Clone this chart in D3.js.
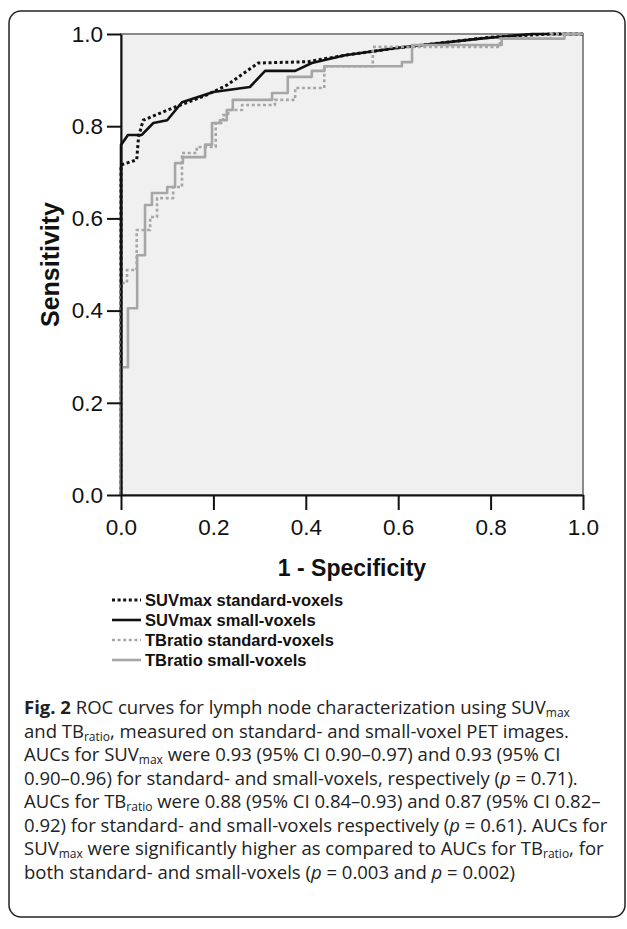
<!DOCTYPE html>
<html>
<head>
  <meta charset="utf-8">
  <script src="https://d3js.org/d3.v7.min.js"></script>
  <style>
    body { margin: 0; background: white; }
    svg text { font-family: "Liberation Sans", Arial, sans-serif; }
    .caption text { font-family: "Open Sans", "Noto Sans", sans-serif; }
  </style>
</head>
<body>
<div id="my_dataviz"></div>
<script>
// ROC points (1 - specificity, sensitivity)
const suvStdFpr = [0, 0, 0.034, 0.038, 0.048, 0.113, 0.186, 0.229, 0.297, 0.405, 0.485, 0.6, 0.8, 0.93, 1];
const suvStdTpr = [0, 0.716, 0.727, 0.777, 0.813, 0.84, 0.868, 0.889, 0.937, 0.94, 0.954, 0.97, 0.993, 1, 1];

const suvSmallFpr = [0, 0, 0.015, 0.045, 0.07, 0.1, 0.132, 0.2, 0.279, 0.312, 0.377, 0.413, 0.485, 0.6, 0.777, 0.89, 1];
const suvSmallTpr = [0, 0.759, 0.781, 0.781, 0.807, 0.813, 0.852, 0.874, 0.885, 0.92, 0.92, 0.937, 0.954, 0.97, 0.99, 1, 1];

// step curves: each point = end of a horizontal run at that sensitivity
const tbStdFpr = [0, 0.013, 0.034, 0.063, 0.078, 0.113, 0.132, 0.164, 0.205, 0.221, 0.232, 0.262, 0.333, 0.377, 0.44, 0.545, 0.82, 0.93, 1];
const tbStdTpr = [0, 0.46, 0.488, 0.575, 0.603, 0.644, 0.668, 0.742, 0.755, 0.807, 0.824, 0.835, 0.846, 0.857, 0.883, 0.93, 0.972, 0.99, 1];

const tbSmallFpr = [0, 0.015, 0.035, 0.052, 0.067, 0.1, 0.117, 0.134, 0.182, 0.197, 0.214, 0.229, 0.242, 0.327, 0.361, 0.413, 0.44, 0.608, 0.63, 0.824, 0.96, 1];
const tbSmallTpr = [0, 0.277, 0.405, 0.52, 0.629, 0.655, 0.668, 0.72, 0.733, 0.76, 0.807, 0.813, 0.835, 0.857, 0.872, 0.907, 0.92, 0.93, 0.939, 0.976, 0.99, 1];

const tickValues = [0, 0.2, 0.4, 0.6, 0.8, 1.0];
const legendLabels = ["SUVmax standard-voxels", "SUVmax small-voxels", "TBratio standard-voxels", "TBratio small-voxels"];

const series = [
  {name: legendLabels[0], fpr: suvStdFpr, tpr: suvStdTpr, color: "#111", width: 3, dash: "3,2.6", step: false},
  {name: legendLabels[1], fpr: suvSmallFpr, tpr: suvSmallTpr, color: "#111", width: 2.6, dash: null, step: false},
  {name: legendLabels[2], fpr: tbStdFpr, tpr: tbStdTpr, color: "#a6a6a6", width: 2.6, dash: "3,2.6", step: true},
  {name: legendLabels[3], fpr: tbSmallFpr, tpr: tbSmallTpr, color: "#a6a6a6", width: 2.6, dash: null, step: true}
];

const W = 627, H = 929;
const svg = d3.select("#my_dataviz").append("svg")
  .attr("width", W).attr("height", H);

// outer figure frame
svg.append("rect")
  .attr("x", 9).attr("y", 11)
  .attr("width", 616).attr("height", 906)
  .attr("rx", 12)
  .attr("fill", "none")
  .attr("stroke", "#222")
  .attr("stroke-width", 1.5);

const plot = {left: 121, top: 34, right: 583, bottom: 495};

const x = d3.scaleLinear().domain([0, 1]).range([plot.left, plot.right]);
const y = d3.scaleLinear().domain([0, 1]).range([plot.bottom, plot.top]);

svg.append("rect")
  .attr("x", plot.left).attr("y", plot.top)
  .attr("width", plot.right - plot.left).attr("height", plot.bottom - plot.top)
  .attr("fill", "#f0f0f0")
  .attr("stroke", "#8a8a8a")
  .attr("stroke-width", 2);

// curves
series.forEach(s => {
  const pts = s.fpr.map((f, i) => [f, s.tpr[i]]);
  const line = d3.line()
    .x(d => x(d[0]))
    .y(d => y(d[1]))
    .curve(s.step ? d3.curveStepBefore : d3.curveLinear);
  svg.append("path")
    .datum(pts)
    .attr("d", line)
    .attr("fill", "none")
    .attr("stroke", s.color)
    .attr("stroke-width", s.width)
    .attr("stroke-dasharray", s.dash)
    .attr("stroke-linejoin", "round");
});

// axes
const xAxis = svg.append("g")
  .attr("transform", `translate(0,${plot.bottom})`)
  .call(d3.axisBottom(x).tickValues(tickValues).tickFormat(d3.format(".1f")).tickSizeInner(15).tickSizeOuter(0).tickPadding(9));
const yAxis = svg.append("g")
  .attr("transform", `translate(${plot.left},0)`)
  .call(d3.axisLeft(y).tickValues(tickValues).tickFormat(d3.format(".1f")).tickSizeInner(14).tickSizeOuter(0).tickPadding(4));

[xAxis, yAxis].forEach(g => {
  g.select(".domain").attr("stroke", "#111").attr("stroke-width", 2);
  g.selectAll(".tick line").attr("stroke", "#111").attr("stroke-width", 2);
  g.selectAll(".tick text")
    .attr("fill", "#111")
    .style("font-size", "22.5px")
    .style("font-family", "Liberation Sans, Arial, sans-serif");
});

svg.append("text")
  .attr("x", (plot.left + plot.right) / 2)
  .attr("y", 576)
  .attr("text-anchor", "middle")
  .style("font-size", "23px")
  .style("font-weight", "bold")
  .attr("fill", "#111")
  .text("1 - Specificity");

svg.append("text")
  .attr("transform", `translate(59,${(plot.top + plot.bottom) / 2}) rotate(-90)`)
  .attr("text-anchor", "middle")
  .style("font-size", "25px")
  .style("font-weight", "bold")
  .attr("fill", "#111")
  .text("Sensitivity");

// legend
const legend = svg.append("g").attr("transform", "translate(112,600)");
series.forEach((s, i) => {
  const row = legend.append("g").attr("transform", `translate(0,${i * 20})`);
  row.append("line")
    .attr("x1", 0).attr("x2", 29)
    .attr("y1", 0).attr("y2", 0)
    .attr("stroke", s.color)
    .attr("stroke-width", s.width)
    .attr("stroke-dasharray", s.dash);
  row.append("text")
    .attr("x", 33).attr("y", 0)
    .attr("dy", "0.35em")
    .style("font-size", "16.5px")
    .style("font-weight", "bold")
    .attr("fill", "#111")
    .text(s.name);
});

// caption: each line is a list of [text, style]
const captionLines = [
  [["Fig. 2", "b"], [" ROC curves for lymph node characterization using SUV", ""], ["max", "sub"]],
  [["and TB", ""], ["ratio", "sub"], [", measured on standard- and small-voxel PET images.", ""]],
  [["AUCs for SUV", ""], ["max", "sub"], [" were 0.93 (95% CI 0.90\u20130.97) and 0.93 (95% CI", ""]],
  [["0.90\u20130.96) for standard- and small-voxels, respectively (", ""], ["p", "i"], [" = 0.71).", ""]],
  [["AUCs for TB", ""], ["ratio", "sub"], [" were 0.88 (95% CI 0.84\u20130.93) and 0.87 (95% CI 0.82\u2013", ""]],
  [["0.92) for standard- and small-voxels respectively (", ""], ["p", "i"], [" = 0.61). AUCs for", ""]],
  [["SUV", ""], ["max", "sub"], [" were significantly higher as compared to AUCs for TB", ""], ["ratio", "sub"], [", for", ""]],
  [["both standard- and small-voxels (", ""], ["p", "i"], [" = 0.003 and ", ""], ["p", "i"], [" = 0.002)", ""]]
];

const subShift = 3;
const caption = svg.append("g").attr("class", "caption");
captionLines.forEach((segs, i) => {
  const t = caption.append("text")
    .attr("x", 24)
    .attr("y", 714 + i * 23.5)
    .style("font-size", "18.5px")
    .attr("fill", "#222");
  let inSub = false;
  segs.forEach(([str, st]) => {
    const ts = t.append("tspan").text(str);
    if (st === "b") ts.style("font-weight", "bold");
    if (st === "i") ts.style("font-style", "italic");
    if (st === "sub") {
      ts.style("font-size", "12px").attr("dy", subShift);
      inSub = true;
    } else if (inSub) {
      ts.attr("dy", -subShift);
      inSub = false;
    }
  });
});
</script>
</body>
</html>
